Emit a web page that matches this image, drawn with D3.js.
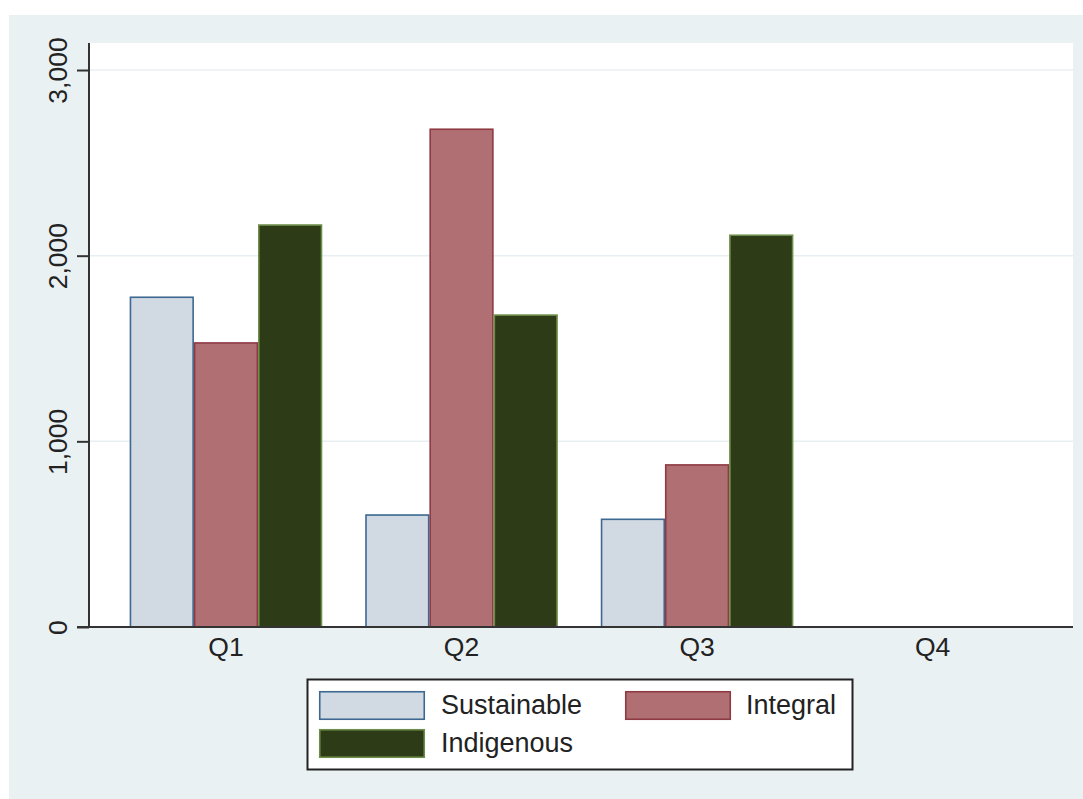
<!DOCTYPE html>
<html>
<head>
<meta charset="utf-8">
<script src="https://cdn.jsdelivr.net/npm/d3@7"></script>
<style>
  html, body { margin: 0; padding: 0; background: #ffffff; }
  svg { display: block; font-family: "Liberation Sans", Arial, sans-serif; }
</style>
</head>
<body>
<svg id="chart" width="1083" height="799"></svg>
<script>
// ---- data ----
const categories = ["Q1", "Q2", "Q3", "Q4"];
const seriesNames = ["Sustainable", "Integral", "Indigenous"];
const sustainable = [1776, 603, 580, null];
const integral = [1530, 2681, 873, null];
const indigenous = [2165, 1680, 2110, null];
const yTickValues = [0, 1000, 2000, 3000];
const yTickLabels = ["0", "1,000", "2,000", "3,000"];

const seriesValues = [sustainable, integral, indigenous];
const fills = ["#d1d9e3", "#b07073", "#2d3b17"];
const strokes = ["#3c6891", "#8e3a43", "#6d8e4a"];

const svg = d3.select("#chart");

// outer graph region
svg.append("rect").attr("x", 9).attr("y", 15).attr("width", 1074).attr("height", 784).attr("fill", "#eaf1f3");

const plot = { left: 89, right: 1073, top: 43, bottom: 627 };
svg.append("rect").attr("x", plot.left).attr("y", plot.top)
  .attr("width", plot.right - plot.left).attr("height", plot.bottom - plot.top).attr("fill", "#ffffff");

const y = d3.scaleLinear().domain([0, 3145.5]).range([plot.bottom, plot.top]);
const x0 = d3.scaleBand().domain(categories).range([plot.left, plot.right])
  .paddingInner(0.1826).paddingOuter(0.18).align(0.48);
const x1 = d3.scaleBand().domain(seriesNames).range([0, x0.bandwidth()]).padding(0);

// gridlines
svg.append("g").selectAll("line").data(yTickValues.filter(v => v > 0)).join("line")
  .attr("x1", plot.left).attr("x2", plot.right)
  .attr("y1", d => y(d)).attr("y2", d => y(d))
  .attr("stroke", "#e8eff2").attr("stroke-width", 1.5);

// bars
const table = [];
categories.forEach((c, i) => {
  seriesNames.forEach((s, j) => {
    const v = seriesValues[j][i];
    if (v != null) table.push({ cat: c, series: s, idx: j, value: v });
  });
});
svg.append("g").selectAll("rect").data(table).join("rect")
  .attr("x", d => x0(d.cat) + x1(d.series) + 0.75)
  .attr("width", x1.bandwidth() - 1.5)
  .attr("y", d => y(d.value))
  .attr("height", d => y(0) - y(d.value))
  .attr("fill", d => fills[d.idx])
  .attr("stroke", d => strokes[d.idx])
  .attr("stroke-width", 1.6);

// y axis
const yAxis = d3.axisLeft(y).tickValues(yTickValues).tickSize(12)
  .tickFormat((d, i) => yTickLabels[i]);
const gy = svg.append("g").attr("transform", `translate(${plot.left},0)`).call(yAxis);
gy.select(".domain").attr("d", `M0,${plot.top}V${plot.bottom}`).attr("stroke", "#333").attr("stroke-width", 2);
gy.selectAll(".tick line").attr("stroke", "#333").attr("stroke-width", 2);
gy.selectAll(".tick text")
  .attr("x", null).attr("dy", null)
  .attr("transform", "translate(-22,0) rotate(-90)")
  .attr("text-anchor", "middle")
  .attr("font-size", 26.5)
  .attr("font-family", "Liberation Sans, Arial, sans-serif")
  .attr("fill", "#222");

// x axis
const xAxis = d3.axisBottom(x0).tickSize(0).tickPadding(0);
const gx = svg.append("g").attr("transform", `translate(0,${plot.bottom})`).call(xAxis);
gx.select(".domain").attr("d", `M${plot.left - 12},0H${plot.right}`).attr("stroke", "#333").attr("stroke-width", 2);
gx.selectAll(".tick text")
  .attr("y", 29).attr("dy", null)
  .attr("font-size", 26.5)
  .attr("font-family", "Liberation Sans, Arial, sans-serif")
  .attr("fill", "#222");

// legend
const lg = svg.append("g");
lg.append("rect").attr("x", 307.5).attr("y", 679.5).attr("width", 545).attr("height", 90)
  .attr("fill", "#ffffff").attr("stroke", "#222").attr("stroke-width", 2);
const legendPos = [
  { sx: 319, sy: 691, tx: 441, ty: 714 },
  { sx: 625, sy: 691, tx: 746, ty: 714 },
  { sx: 319, sy: 729, tx: 441, ty: 752 }
];
seriesNames.forEach((s, j) => {
  const p = legendPos[j];
  lg.append("rect").attr("x", p.sx + 0.75).attr("y", p.sy + 0.75).attr("width", 104.5).attr("height", 27.5)
    .attr("fill", fills[j]).attr("stroke", strokes[j]).attr("stroke-width", 1.6);
  lg.append("text").attr("x", p.tx).attr("y", p.ty).text(s)
    .attr("font-size", 27).attr("fill", "#222");
});
</script>
</body>
</html>
